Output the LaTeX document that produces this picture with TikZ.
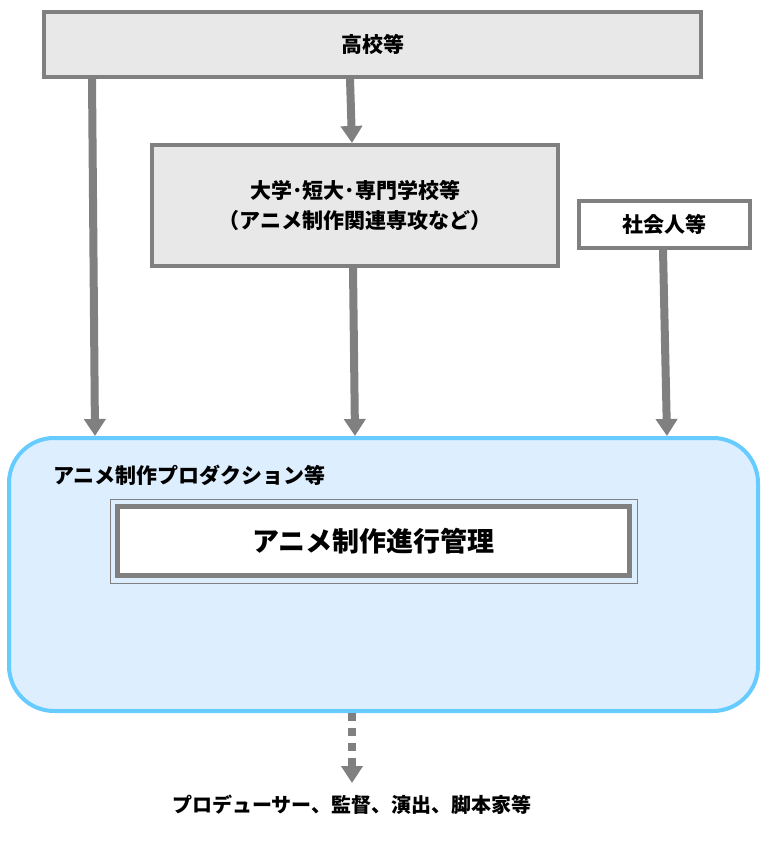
\documentclass[tikz,border=0pt]{standalone}
\usepackage{fontspec}
\setmainfont{Noto Sans CJK JP}
\usetikzlibrary{arrows.meta}

\definecolor{Frame}{HTML}{808080}
\definecolor{School}{HTML}{E8E8E8}
\definecolor{ProdLine}{HTML}{66CCFF}
\definecolor{ProdFill}{HTML}{DDEEFF}

\begin{document}
\begin{tikzpicture}[x=1pt, y=-1pt,
  box/.style={draw=Frame, line width=4pt, fill=School, inner sep=0pt},
  flow/.style={draw=Frame, line width=8pt, -{Triangle[width=21pt,length=17pt]}},
  jp/.style={font=\fontsize{21}{30}\selectfont\bfseries, align=center}]

 \useasboundingbox (0,0) rectangle (775,845);

 %%%%%%%%%% Boxes %%%%%%%%%%
 \node (koko) [box, jp, minimum width=657pt, minimum height=65pt] at (372.5,44.5) {高校等};
 \node (daigaku) [box, jp, minimum width=406pt, minimum height=121pt] at (355,205.5)
   {大学･短大･専門学校等\\（アニメ制作関連専攻など）};
 \node (shakai) [box, jp, fill=white, minimum width=171pt, minimum height=47pt] at (664.5,224.5) {社会人等};

 %%%%%%%%%% Production %%%%%%%%%%
 \node (prod) [draw=ProdLine, fill=ProdFill, line width=4pt, rounded corners=45pt,
   minimum width=749pt, minimum height=273pt, inner sep=0pt] at (383.5,574.5) {};
 \node (prodlabel) [jp, anchor=west, inner sep=0pt] at (53,475) {アニメ制作プロダクション等};
 \node (shinko) [draw=Frame, fill=white, line width=5pt, inner sep=0pt,
   minimum width=512pt, minimum height=69pt, font=\fontsize{27}{30}\selectfont\bfseries] at (373.5,541) {アニメ制作進行管理};
 \draw [Frame, line width=0.8pt] ([shift={(-5pt,5pt)}]shinko.north west) rectangle ([shift={(5pt,-5pt)}]shinko.south east);

 %%%%%%%%%% Careers %%%%%%%%%%
 \node (career) [jp, font=\fontsize{20}{30}\selectfont\bfseries, inner sep=0pt] at (352,805) {プロデューサー、監督、演出、脚本家等};

 %%%%%%%%%% Points pour les fleches %%%%%%%%%%
 \coordinate (k1) at (92,79);
 \coordinate (k2) at (350,79);
 \coordinate (p1) at (95,436);
 \coordinate (p2) at (355,436);
 \coordinate (p3) at (667,436);
 \coordinate (d2) at (353,266);
 \coordinate (s3) at (663,248);

 %%%%%%%%%% Arrows %%%%%%%%%%
 \draw [flow] (k1) -- (p1);
 \draw [flow] (k2) -- (352,143);
 \draw [flow] (daigaku.south -| d2) -- (p2);
 \draw [flow] (shakai.south -| s3) -- (p3);
 \draw [flow, dash pattern=on 8pt off 7pt] (prod.south -| career) -- ([yshift=12pt]career.north);

\end{tikzpicture}
\end{document}
